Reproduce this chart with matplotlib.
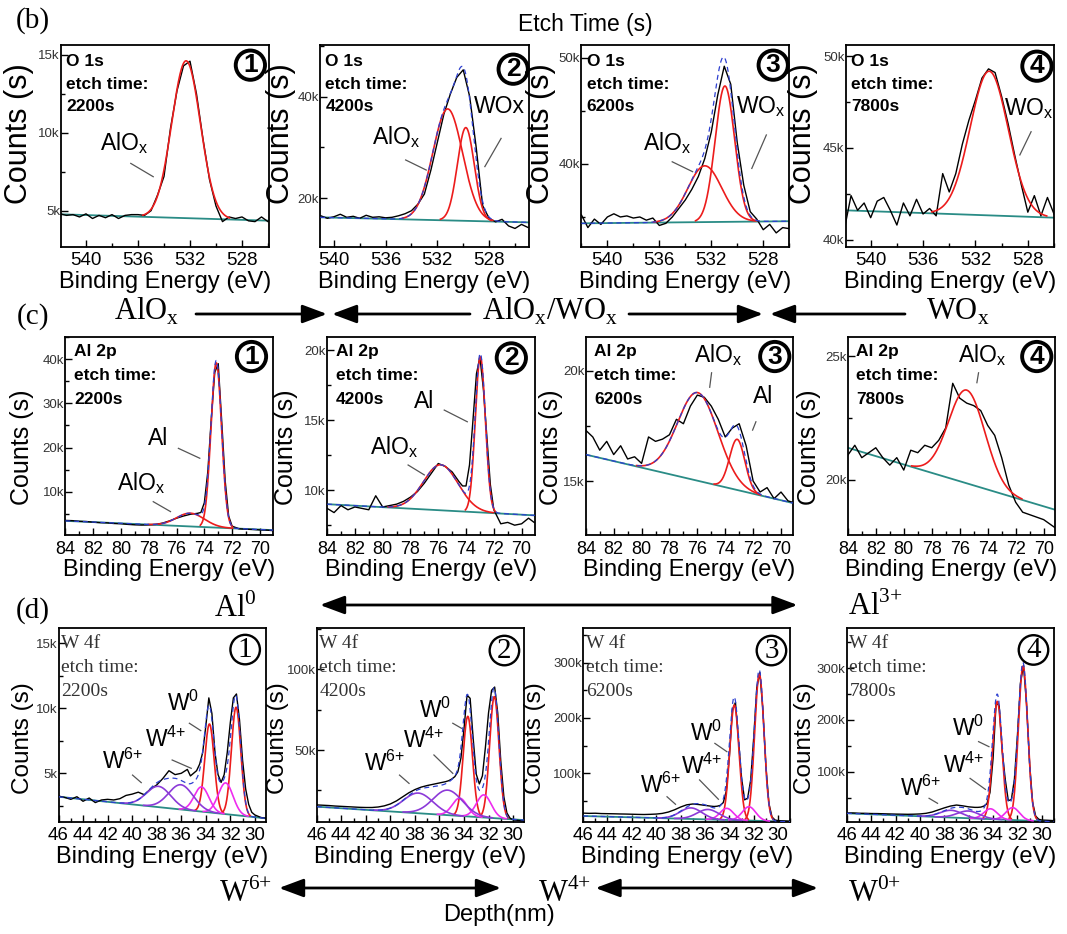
import numpy as np
import matplotlib
matplotlib.use('Agg')
import matplotlib.pyplot as plt
from matplotlib.ticker import MultipleLocator, FuncFormatter
from matplotlib.patches import FancyArrowPatch

# ======================= DATA (counts in thousands) =======================
etch_times = ['2200s', '4200s', '6200s', '7800s']
circled_digits = ['1', '2', '3', '4']

# ---- (b) O 1s ----
E_b1 = np.arange(542.0, 525.99, -0.5)
cnt_b1 = [4.8, 4.7, 4.75, 4.6, 4.8, 4.5, 4.7, 4.55, 4.75, 4.5, 4.7, 4.75, 4.75, 4.7, 5.0, 6.0, 7.2,
          10.3, 12.7, 14.3, 14.6, 12.5, 9.6, 7.0, 5.3, 4.3, 4.6, 4.5, 4.6, 4.35, 4.3, 4.6, 4.3]
bg_b1 = [4.77, 4.36]
pk_center_b1 = [532.3]
pk_height_b1 = [10.1]
pk_sigma_b1 = [1.1]

E_b2 = np.arange(541.0, 524.99, -0.5)
cnt_b2 = [16.5, 16.0, 16.3, 16.8, 16.2, 16.4, 16.0, 16.6, 16.2, 16.3, 16.1, 16.2, 16.5, 16.9, 17.5,
          18.8, 20.8, 25.5, 31.0, 36.5, 40.5, 43.8, 45.3, 40.0, 30.0, 18.5, 16.0, 15.3, 15.8, 14.5,
          14.0, 14.8, 14.2]
bg_b2 = [16.2, 15.2]
pk_center_b2 = [531.2, 529.8]
pk_height_b2 = [22.0, 18.4]
pk_sigma_b2 = [1.15, 0.65]

E_b3 = np.arange(542.0, 525.99, -0.5)
cnt_b3 = [35.2, 34.0, 34.8, 34.3, 35.0, 35.3, 35.0, 35.1, 34.9, 35.0, 34.7, 34.9, 34.2, 34.4, 35.0,
          35.8, 36.6, 37.6, 38.8, 40.5, 43.0, 46.5, 49.2, 47.5, 42.0, 38.0, 35.5, 34.8, 33.8, 34.3,
          33.5, 34.0, 33.9]
bg_b3 = [34.4, 34.6]
pk_center_b3 = [532.5, 530.95]
pk_height_b3 = [5.3, 12.8]
pk_sigma_b3 = [1.3, 0.75]

E_b4 = np.arange(542.0, 525.99, -0.5)
cnt_b4 = [40.6, 42.4, 41.6, 42.0, 41.2, 42.1, 42.3, 41.6, 40.8, 42.0, 41.3, 42.2, 41.4, 41.7, 41.3,
          43.6, 42.6, 43.6, 45.2, 46.5, 47.6, 48.8, 49.3, 49.1, 47.8, 46.3, 44.6, 43.0, 41.5, 42.4,
          41.3, 42.3, 41.4]
bg_b4 = [41.6, 41.2]
pk_center_b4 = [530.95]
pk_height_b4 = [7.85]
pk_sigma_b4 = [1.45]

# ---- (c) Al 2p ----
E_c12 = [84, 83.5, 83, 82.5, 82, 81.5, 81, 80.5, 80, 79.5, 79, 78.5, 78, 77.5, 77, 76.5, 76, 75.5,
         75, 74.5, 74.25, 74, 73.75, 73.5, 73.25, 73, 72.75, 72.5, 72.25, 72, 71.5, 71, 70.5, 70,
         69.5, 69.1]
cnt_c1 = [3.5, 3.45, 3.3, 3.25, 3.1, 3.0, 2.95, 2.8, 2.75, 2.6, 2.5, 2.45, 2.5, 2.6, 2.9, 3.4, 4.0,
          4.5, 4.9, 5.1, 5.3, 7.5, 14.5, 26.5, 37.0, 39.0, 26.0, 12.5, 4.5, 2.2, 1.6, 1.5, 1.45,
          1.35, 1.3, 1.2]
bg_c1 = [3.4, 1.3]
pk_center_c1 = [75.0, 73.14]
pk_height_c1 = [3.0, 37.3]
pk_sigma_c1 = [1.0, 0.38]

cnt_c2 = [8.7, 8.4, 8.9, 8.6, 8.8, 8.7, 8.6, 9.6, 8.8, 8.9, 9.0, 9.2, 9.5, 9.9, 10.5, 11.2, 11.9,
          11.7, 11.3, 10.6, 10.3, 10.3, 11.8, 15.0, 18.3, 19.5, 17.2, 13.8, 10.4, 8.6, 7.6, 7.7,
          7.5, 7.6, 8.0, 7.7]
bg_c2 = [9.0, 8.2]
pk_center_c2 = [75.82, 72.97]
pk_height_c2 = [3.25, 11.1]
pk_sigma_c2 = [1.25, 0.36]

E_c34 = np.arange(84.0, 68.99, -0.5)
cnt_c3 = [17.3, 17.0, 16.4, 16.8, 16.2, 16.6, 16.0, 16.1, 15.8, 17.0, 16.8, 16.9, 17.1, 17.8, 17.6,
          18.4, 18.9, 18.8, 18.4, 17.8, 17.0, 17.4, 17.6, 16.6, 15.0, 14.5, 14.7, 14.2, 14.5, 14.1,
          14.0]
bg_c3 = [16.2, 14.0]
pk_center_c3 = [75.97, 73.14]
pk_height_c3 = [4.0, 2.3]
pk_sigma_c3 = [1.45, 0.55]

cnt_c4 = [21.0, 21.4, 20.9, 21.1, 21.3, 20.9, 20.6, 20.9, 20.4, 21.2, 21.1, 21.4, 21.3, 21.6, 22.1,
          23.9, 23.3, 23.1, 23.0, 22.8, 22.2, 21.8, 20.9, 19.8, 19.1, 18.7, 18.6, 18.5, 18.4, 18.2,
          18.0]
bg_c4 = [21.3, 18.8]
pk_center_c4 = [75.5]
pk_height_c4 = [3.76]
pk_sigma_c4 = [1.3]

# ---- (d) W 4f ----  (component order: W0 7/2, W0 5/2, W4+ x2, W6+ x2)
E_d = [46, 45.5, 45, 44.5, 44, 43.5, 43, 42.5, 42, 41.5, 41, 40.5, 40, 39.5, 39, 38.5, 38, 37.5, 37,
       36.5, 36, 35.5, 35.25, 35, 34.75, 34.5, 34.25, 34, 33.75, 33.5, 33.25, 33, 32.75, 32.5,
       32.25, 32, 31.75, 31.5, 31.25, 31, 30.75, 30.5, 30.25, 30, 29.5, 29.1]
cnt_d1 = [3.25, 3.15, 3.0, 3.2, 2.85, 3.1, 2.75, 2.95, 3.0, 2.95, 3.05, 3.3, 3.4, 3.55, 3.35, 3.8,
          4.1, 4.6, 5.2, 4.9, 5.0, 5.3, 4.8, 5.0, 5.2, 5.7, 6.6, 8.6, 10.8, 9.6, 6.6, 4.9, 4.3, 4.9,
          6.6, 8.9, 10.8, 11.1, 9.1, 6.0, 3.8, 2.6, 2.0, 1.8, 1.6, 1.55]
bg_d1 = [3.2, 1.54]
pk_center_d1 = [31.53, 33.7, 32.38, 34.34, 36.03, 37.85]
pk_height_d1 = [8.3, 6.8, 2.4, 1.9, 1.9, 1.6]
pk_sigma_d1 = [0.38, 0.38, 0.6, 0.6, 1.0, 1.0]

cnt_d2 = [16.0, 15.8, 15.6, 15.3, 15.1, 14.9, 14.7, 14.5, 14.4, 14.4, 14.7, 15.4, 16.6, 18.5, 21.0,
          23.5, 25.5, 27.0, 28.0, 28.8, 29.6, 30.4, 31.0, 32.0, 33.5, 36.5, 45.0, 63.0, 84.0, 82.0,
          57.0, 35.0, 29.0, 34.0, 52.0, 73.0, 87.0, 89.0, 73.0, 43.0, 21.0, 11.0, 7.8, 6.8, 6.3,
          6.1]
bg_d2 = [14.9, 6.6]
pk_center_d2 = [31.53, 33.69, 32.38, 34.35, 35.33, 37.72]
pk_height_d2 = [75.3, 62.0, 14.0, 11.0, 15.5, 12.5]
pk_sigma_d2 = [0.38, 0.38, 0.6, 0.6, 1.2, 1.2]

cnt_d3 = [28.0, 27.6, 27.8, 27.2, 27.0, 26.8, 26.5, 26.3, 26.0, 25.7, 25.5, 25.8, 26.3, 27.5, 30.0,
          34.0, 39.0, 43.0, 44.5, 43.5, 42.0, 40.5, 40.0, 40.5, 42.0, 47.0, 68.0, 130.0, 215.0,
          228.0, 160.0, 92.0, 52.0, 55.0, 88.0, 165.0, 255.0, 282.0, 215.0, 112.0, 45.0, 21.0,
          15.5, 14.5, 14.0, 13.6]
bg_d3 = [22.8, 12.5]
pk_center_d3 = [31.54, 33.59, 32.39, 34.21, 35.75, 37.15]
pk_height_d3 = [265.0, 208.0, 25.0, 21.0, 18.0, 20.0]
pk_sigma_d3 = [0.38, 0.38, 0.55, 0.55, 0.9, 0.9]

cnt_d4 = [20.0, 20.2, 19.6, 19.5, 19.1, 19.0, 18.6, 18.3, 18.0, 17.8, 17.6, 17.8, 18.3, 19.5, 22.0,
          26.0, 30.0, 33.5, 35.5, 34.0, 32.0, 31.0, 31.0, 31.5, 33.5, 38.0, 60.0, 125.0, 232.0,
          228.0, 140.0, 85.0, 44.0, 46.0, 85.0, 170.0, 272.0, 305.0, 230.0, 115.0, 40.0, 14.0,
          8.0, 6.5, 6.0, 5.5]
bg_d4 = [19.5, 3.3]
pk_center_d4 = [31.54, 33.65, 32.39, 34.21, 36.03, 37.44]
pk_height_d4 = [298.0, 228.0, 24.0, 20.0, 14.0, 14.0]
pk_sigma_d4 = [0.38, 0.38, 0.55, 0.55, 0.9, 0.9]

# ======================= STYLE / LAYOUT =======================
W, H = 1067, 934
fig = plt.figure(figsize=(W / 100, H / 100), dpi=100)
fig.patch.set_facecolor('white')
SANS = ['Liberation Sans', 'DejaVu Sans']
SERIF = ['Liberation Serif', 'DejaVu Serif']
plt.rcParams['font.family'] = SANS

RED, MAG, PUR = '#ec1c1c', '#ee2cee', '#8c3ad8'
TEAL, BLUE = '#2a8c86', '#2d3fd0'
GRAYTXT = '#333333'


def kfmt(v, pos):
    return f'{v:g}k'


def gauss(x, c, h, s):
    return h * np.exp(-0.5 * ((x - c) / s) ** 2)


def draw_panel(box, E, cnt, bg, centers, heights, sigmas, colors, xlim, ylim,
               xmaj, xmin, ymaj, ymin, header, sans_header, circ, labels, leaders,
               ylab_xy, ylab_size, xtick_size, head_xy, head_dy):
    l, r, t, b = box
    ax = fig.add_axes([l / W, 1 - b / H, (r - l) / W, (b - t) / H])
    xg = np.linspace(xlim[0], xlim[1], 800)
    bgl = bg[0] + (bg[1] - bg[0]) * (xg - xlim[0]) / (xlim[1] - xlim[0])
    ax.plot([xlim[0], xlim[1]], bg, color=TEAL, lw=1.3, zorder=2)
    ax.plot(E, cnt, color='black', lw=1.0, zorder=3)
    total = bgl.copy()
    for c, h, s, col in zip(centers, heights, sigmas, colors):
        g = gauss(xg, c, h, s)
        total += g
        yc = np.where(g > 0.01 * h, bgl + g, np.nan)
        ax.plot(xg, yc, color=col, lw=1.2, zorder=4)
    if len(centers) > 1:
        ax.plot(xg, total, color=BLUE, lw=0.9, ls=(0, (4, 3)), zorder=5)
    ax.set_xlim(*xlim)
    ax.set_ylim(*ylim)
    ax.xaxis.set_major_locator(MultipleLocator(xmaj))
    ax.xaxis.set_minor_locator(MultipleLocator(xmin))
    ax.yaxis.set_major_locator(MultipleLocator(ymaj))
    ax.yaxis.set_minor_locator(MultipleLocator(ymin))
    ax.yaxis.set_major_formatter(FuncFormatter(kfmt))
    ax.tick_params(which='both', direction='in', top=False, right=False, width=1.0)
    ax.tick_params(which='major', length=5)
    ax.tick_params(which='minor', length=3)
    ax.tick_params(axis='x', labelsize=xtick_size, pad=4)
    ax.tick_params(axis='y', labelsize=9.5, pad=1, labelcolor=GRAYTXT)
    for sp in ax.spines.values():
        sp.set_linewidth(1.3)
    ax.set_xlabel('Binding Energy (eV)', fontsize=17, labelpad=1)
    ax.set_ylabel('Counts (s)', fontsize=ylab_size)
    ax.yaxis.set_label_coords(*ylab_xy)
    # header text
    hx, hy = head_xy
    for i, s in enumerate(header):
        if sans_header:
            ax.text(hx, hy - i * head_dy, s, transform=ax.transAxes, ha='left', va='top',
                    fontsize=12.5, fontweight='bold', zorder=6)
        else:
            ax.text(hx, hy - i * head_dy, s, transform=ax.transAxes, ha='left', va='top',
                    fontsize=14, family=SERIF, color=GRAYTXT, zorder=6)
    # circled number
    cx, cy, digit = circ
    if sans_header:
        ax.text(cx, cy, digit, transform=ax.transAxes, ha='center', va='center',
                fontsize=19, fontweight='bold', zorder=6,
                bbox=dict(boxstyle='circle,pad=0.1', fc='none', ec='black', lw=2.8))
    else:
        ax.text(cx, cy, digit, transform=ax.transAxes, ha='center', va='center',
                fontsize=21, family=SERIF, zorder=6,
                bbox=dict(boxstyle='circle,pad=0.06', fc='none', ec='black', lw=1.7))
    for s, fx, fy in labels:
        ax.text(fx, fy, s, transform=ax.transAxes, ha='center', va='center',
                fontsize=16.5, zorder=6)
    for (x0, y0), (x1, y1) in leaders:
        ax.plot([x0, x1], [y0, y1], transform=ax.transAxes, color='#555555', lw=0.9,
                zorder=6, clip_on=False)
    return ax


ALOX = r'AlO$_{\mathregular{x}}$'
WOX = r'WO$_{\mathregular{x}}$'
W0 = r'W$^{\mathregular{0}}$'
W4 = r'W$^{\mathregular{4{+}}}$'
W6 = r'W$^{\mathregular{6{+}}}$'
RB = [RED]
RR = [RED, RED]
DCOL = [RED, RED, MAG, MAG, PUR, PUR]

# ---------------- row (b) ----------------
yb = (45.0, 246.7)
rowb = [
    dict(box=(61.3, 269.3) + yb, E=E_b1, cnt=cnt_b1, bg=bg_b1, centers=pk_center_b1,
         heights=pk_height_b1, sigmas=pk_sigma_b1, colors=RB, xlim=(541.9, 525.9), ylim=(2.69, 15.64),
         ymaj=5, ymin=2.5, circ=(0.909, 0.900, '1'),
         labels=[(ALOX, 0.30, 0.512)], leaders=[((0.334, 0.413), (0.442, 0.347))], ylab_xy=(-0.131, 0.56)),
    dict(box=(320.2, 528.6) + yb, E=E_b2, cnt=cnt_b2, bg=bg_b2, centers=pk_center_b2,
         heights=pk_height_b2, sigmas=pk_sigma_b2, colors=RR, xlim=(541.05, 524.95), ylim=(10.4, 50.2),
         ymaj=20, ymin=10, circ=(0.926, 0.880, '2'),
         labels=[(ALOX, 0.364, 0.545), ('WOx', 0.86, 0.694)],
         leaders=[((0.41, 0.43), (0.509, 0.38)), ((0.868, 0.537), (0.79, 0.397))], ylab_xy=(-0.116, 0.56)),
    dict(box=(581.4, 789.2) + yb, E=E_b3, cnt=cnt_b3, bg=bg_b3, centers=pk_center_b3,
         heights=pk_height_b3, sigmas=pk_sigma_b3, colors=RR, xlim=(542.0, 526.0), ylim=(32.2, 51.2),
         ymaj=10, ymin=5, circ=(0.923, 0.900, '3'),
         labels=[(ALOX, 0.412, 0.512), (WOX, 0.865, 0.694)],
         leaders=[((0.437, 0.421), (0.535, 0.372)), ((0.89, 0.554), (0.82, 0.388))], ylab_xy=(-0.124, 0.56)),
    dict(box=(845.8, 1054.0) + yb, E=E_b4, cnt=cnt_b4, bg=bg_b4, centers=pk_center_b4,
         heights=pk_height_b4, sigmas=pk_sigma_b4, colors=RB, xlim=(541.9, 526.0), ylim=(39.62, 50.6),
         ymaj=5, ymin=2.5, circ=(0.918, 0.895, '4'),
         labels=[(WOX, 0.877, 0.686)], leaders=[((0.89, 0.570), (0.836, 0.455))], ylab_xy=(-0.135, 0.56)),
]
for i, p in enumerate(rowb):
    draw_panel(p['box'], p['E'], p['cnt'], p['bg'], p['centers'], p['heights'], p['sigmas'],
               p['colors'], p['xlim'], p['ylim'], 4, 2, p['ymaj'], p['ymin'],
               ['O 1s', 'etch time:', etch_times[i]], True, p['circ'], p['labels'], p['leaders'],
               p['ylab_xy'], 22, 13.5, (0.025, 0.955), 0.112)

# ---------------- row (c) ----------------
yc = (336.7, 535.0)
rowc = [
    dict(box=(65.4, 273.1) + yc, E=E_c12, cnt=cnt_c1, bg=bg_c1, centers=pk_center_c1,
         heights=pk_height_c1, sigmas=pk_sigma_c1, colors=RR, xlim=(84.0, 69.05), ylim=(0.2, 45.1),
         ymaj=10, ymin=5, circ=(0.896, 0.900, '1'),
         labels=[('Al', 0.448, 0.487), (ALOX, 0.365, 0.261)],
         leaders=[((0.544, 0.437), (0.647, 0.387)), ((0.423, 0.168), (0.506, 0.118))], ylab_xy=(-0.149, 0.44)),
    dict(box=(327.1, 534.8) + yc, E=E_c12, cnt=cnt_c2, bg=bg_c2, centers=pk_center_c2,
         heights=pk_height_c2, sigmas=pk_sigma_c2, colors=RR, xlim=(84.0, 69.05), ylim=(6.8, 20.95),
         ymaj=5, ymin=2.5, circ=(0.887, 0.893, '2'),
         labels=[('Al', 0.468, 0.672), (ALOX, 0.323, 0.445)],
         leaders=[((0.564, 0.630), (0.675, 0.571)), ((0.390, 0.353), (0.468, 0.303))], ylab_xy=(-0.14, 0.44)),
    dict(box=(585.8, 793.0) + yc, E=E_c34, cnt=cnt_c3, bg=bg_c3, centers=pk_center_c3,
         heights=pk_height_c3, sigmas=pk_sigma_c3, colors=RR, xlim=(84.0, 69.14), ylim=(12.55, 21.55),
         ymaj=5, ymin=2.5, circ=(0.912, 0.900, '3'),
         labels=[(ALOX, 0.64, 0.908), ('Al', 0.858, 0.697)],
         leaders=[((0.607, 0.818), (0.598, 0.745)), ((0.821, 0.571), (0.805, 0.529))], ylab_xy=(-0.112, 0.44)),
    dict(box=(847.8, 1055.0) + yc, E=E_c34, cnt=cnt_c4, bg=bg_c4, centers=pk_center_c4,
         heights=pk_height_c4, sigmas=pk_sigma_c4, colors=RB, xlim=(84.0, 69.19), ylim=(17.78, 25.78),
         ymaj=5, ymin=2.5, circ=(0.912, 0.900, '4'),
         labels=[(ALOX, 0.648, 0.908)], leaders=[((0.631, 0.818), (0.623, 0.768))], ylab_xy=(-0.129, 0.44)),
]
for i, p in enumerate(rowc):
    draw_panel(p['box'], p['E'], p['cnt'], p['bg'], p['centers'], p['heights'], p['sigmas'],
               p['colors'], p['xlim'], p['ylim'], 2, 1, p['ymaj'], p['ymin'],
               ['Al 2p', 'etch time:', etch_times[i]], True, p['circ'], p['labels'], p['leaders'],
               p['ylab_xy'], 18, 13, (0.041, 0.962), 0.12)

# ---------------- row (d) ----------------
yd = (628.3, 821.7)
rowd = [
    dict(box=(58.5, 265.9) + yd, cnt=cnt_d1, bg=bg_d1, centers=pk_center_d1, heights=pk_height_d1,
         sigmas=pk_sigma_d1, xlim=(46.0, 29.1), ylim=(1.28, 16.15), ymaj=5, ymin=2.5,
         circ=(0.900, 0.890, '1'),
         labels=[(W0, 0.601, 0.612), (W4, 0.515, 0.426), (W6, 0.307, 0.310)],
         leaders=[((0.631, 0.509), (0.686, 0.471)), ((0.548, 0.319), (0.640, 0.276)),
                  ((0.357, 0.241), (0.399, 0.202))], ylab_xy=(-0.116, 0.43)),
    dict(box=(316.8, 524.1) + yd, cnt=cnt_d2, bg=bg_d2, centers=pk_center_d2, heights=pk_height_d2,
         sigmas=pk_sigma_d2, xlim=(46.0, 29.1), ylim=(5.6, 125.4), ymaj=50, ymin=25,
         circ=(0.905, 0.885, '2'),
         labels=[(W0, 0.568, 0.578), (W4, 0.515, 0.422), (W6, 0.329, 0.302)],
         leaders=[((0.656, 0.509), (0.698, 0.483)), ((0.565, 0.345), (0.656, 0.25)),
                  ((0.399, 0.241), (0.445, 0.198))], ylab_xy=(-0.132, 0.43)),
    dict(box=(583.1, 790.3) + yd, cnt=cnt_d3, bg=bg_d3, centers=pk_center_d3, heights=pk_height_d3,
         sigmas=pk_sigma_d3, xlim=(46.0, 29.0), ylim=(12.5, 362.0), ymaj=100, ymin=50,
         circ=(0.909, 0.885, '3'),
         labels=[(W0, 0.595, 0.457), (W4, 0.570, 0.284), (W6, 0.372, 0.19)],
         leaders=[((0.636, 0.405), (0.694, 0.362)), ((0.562, 0.216), (0.653, 0.116)),
                  ((0.405, 0.129), (0.446, 0.09))], ylab_xy=(-0.18, 0.43)),
    dict(box=(846.8, 1054.0) + yd, cnt=cnt_d4, bg=bg_d4, centers=pk_center_d4, heights=pk_height_d4,
         sigmas=pk_sigma_d4, xlim=(46.0, 29.0), ylim=(3.3, 377.0), ymaj=100, ymin=50,
         circ=(0.901, 0.888, '4'),
         labels=[(W0, 0.587, 0.483), (W4, 0.562, 0.293), (W6, 0.355, 0.172)],
         leaders=[((0.636, 0.414), (0.686, 0.388)), ((0.595, 0.224), (0.669, 0.167)),
                  ((0.397, 0.121), (0.438, 0.095))], ylab_xy=(-0.15, 0.43)),
]
for i, p in enumerate(rowd):
    draw_panel(p['box'], E_d, p['cnt'], p['bg'], p['centers'], p['heights'], p['sigmas'],
               DCOL, p['xlim'], p['ylim'], 2, 1, p['ymaj'], p['ymin'],
               ['W 4f', 'etch time:', etch_times[i]], False, p['circ'], p['labels'], p['leaders'],
               p['ylab_xy'], 17.5, 13.5, (0.013, 0.965), 0.123)


# ======================= FIGURE ANNOTATIONS =======================
def ftext(x, y, s, **kw):
    fig.text(x / W, 1 - y / H, s, **kw)


def farrow(x0, x1, y, style):
    a = FancyArrowPatch((x0 / W, 1 - y / H), (x1 / W, 1 - y / H), transform=fig.transFigure,
                        arrowstyle=style, mutation_scale=20, lw=2.0, color='black',
                        shrinkA=0, shrinkB=0)
    fig.add_artist(a)


ONE = '-|>,head_length=0.75,head_width=0.28'
TWO = '<|-|>,head_length=0.75,head_width=0.28'

ftext(33, 21, '(b)', family=SERIF, fontsize=21, ha='center', va='center')
ftext(33, 317, '(c)', family=SERIF, fontsize=21, ha='center', va='center')
ftext(33, 611, '(d)', family=SERIF, fontsize=21, ha='center', va='center')
ftext(585, 24, 'Etch Time (s)', fontsize=16.5, ha='center', va='center')

# row (c) header: oxidation trend
ftext(113.6, 320, ALOX, family=SERIF, fontsize=22, ha='left', va='baseline')
farrow(196, 327, 314, ONE)
farrow(470, 332, 314, ONE)
ftext(482, 320, ALOX + '/' + WOX, family=SERIF, fontsize=22, ha='left', va='baseline')
farrow(629, 763, 314, ONE)
farrow(905, 770, 314, ONE)
ftext(925.5, 320, WOX, family=SERIF, fontsize=22, ha='left', va='baseline')

# row (d) header: Al states
ftext(214, 617, r'Al$^{\mathregular{0}}$', family=SERIF, fontsize=22, ha='left', va='baseline')
farrow(320, 797.5, 605, TWO)
ftext(848.5, 615, r'Al$^{\mathregular{3{+}}}$', family=SERIF, fontsize=22, ha='left', va='baseline')

# bottom: W states and depth
ftext(219, 902, W6, family=SERIF, fontsize=22, ha='left', va='baseline')
farrow(279, 501, 888, TWO)
ftext(538, 902, W4, family=SERIF, fontsize=22, ha='left', va='baseline')
farrow(595.5, 818, 888, TWO)
ftext(848, 902, r'W$^{\mathregular{0{+}}}$', family=SERIF, fontsize=22, ha='left', va='baseline')
ftext(499, 915, 'Depth(nm)', fontsize=17, ha='center', va='center')

fig.savefig('out.png', dpi=100, facecolor='white')
